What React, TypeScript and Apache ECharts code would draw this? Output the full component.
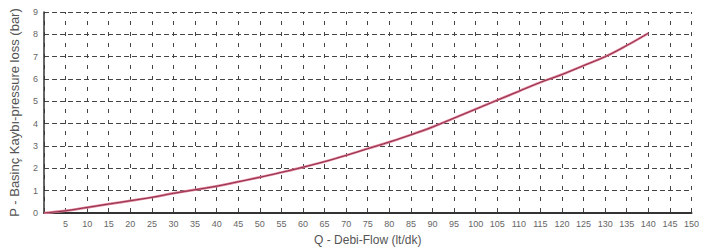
import React, { useEffect, useRef } from "react";
import * as echarts from "echarts";

const flowQ = [0, 5, 10, 15, 20, 25, 30, 35, 40, 45, 50, 55, 60, 65, 70, 75, 80, 85, 90, 95, 100, 105, 110, 115, 120, 125, 130, 135, 140];
const pressureLoss = [0, 0.1, 0.25, 0.4, 0.55, 0.7, 0.88, 1.04, 1.2, 1.4, 1.6, 1.82, 2.05, 2.3, 2.58, 2.88, 3.18, 3.5, 3.85, 4.25, 4.65, 5.05, 5.45, 5.85, 6.2, 6.6, 7.0, 7.5, 8.05];
const xName = "Q - Debi-Flow (lt/dk)";
const yName = "P - Basinç Kaybı-pressure loss (bar)";

export default function App() {
  const ref = useRef<HTMLDivElement>(null);
  useEffect(() => {
    const chart = echarts.init(ref.current!, null, { renderer: "svg" });
    const font = "Liberation Sans, Arial, sans-serif";
    chart.setOption({
      animation: false,
      backgroundColor: "#ffffff",
      grid: { left: 37, right: 5, top: 12, bottom: 39 },
      xAxis: {
        type: "value",
        min: 0,
        max: 150,
        interval: 5,
        name: xName,
        nameLocation: "middle",
        nameGap: 21,
        nameTextStyle: { color: "#555", fontSize: 12, fontFamily: font },
        axisLine: { show: true, onZero: false, lineStyle: { color: "#333", width: 2 } },
        axisTick: { show: false },
        axisLabel: {
          color: "#666",
          fontSize: 9,
          fontFamily: font,
          margin: 6,
          formatter: (v: number) => (v === 0 ? "" : String(v)),
        },
        splitLine: { show: true, lineStyle: { color: "#444", width: 1, type: [4, 7], dashOffset: 2 } },
      },
      yAxis: {
        type: "value",
        min: 0,
        max: 9,
        interval: 1,
        name: yName,
        nameLocation: "middle",
        nameGap: 23,
        nameTextStyle: { color: "#555", fontSize: 13, fontFamily: font },
        axisLine: { show: true, onZero: false, lineStyle: { color: "#333", width: 1.5 } },
        axisTick: { show: false },
        axisLabel: { color: "#666", fontSize: 9, fontFamily: font, margin: 6 },
        splitLine: { show: true, lineStyle: { color: "#444", width: 1, type: [5, 3] } },
      },
      series: [
        {
          type: "line",
          data: flowQ.map((q, i) => [q, pressureLoss[i]]),
          showSymbol: false,
          smooth: 0.4,
          lineStyle: { color: "#e07a95", width: 2.5 },
          z: 3,
        },
        {
          type: "line",
          data: flowQ.map((q, i) => [q, pressureLoss[i]]),
          showSymbol: false,
          smooth: 0.4,
          lineStyle: { color: "#8a3048", width: 1 },
          z: 4,
        },
      ],
    });
    return () => chart.dispose();
  }, []);
  return <div ref={ref} style={{ width: 702, height: 252, position: "absolute", left: 0, top: 0 }} />;
}
